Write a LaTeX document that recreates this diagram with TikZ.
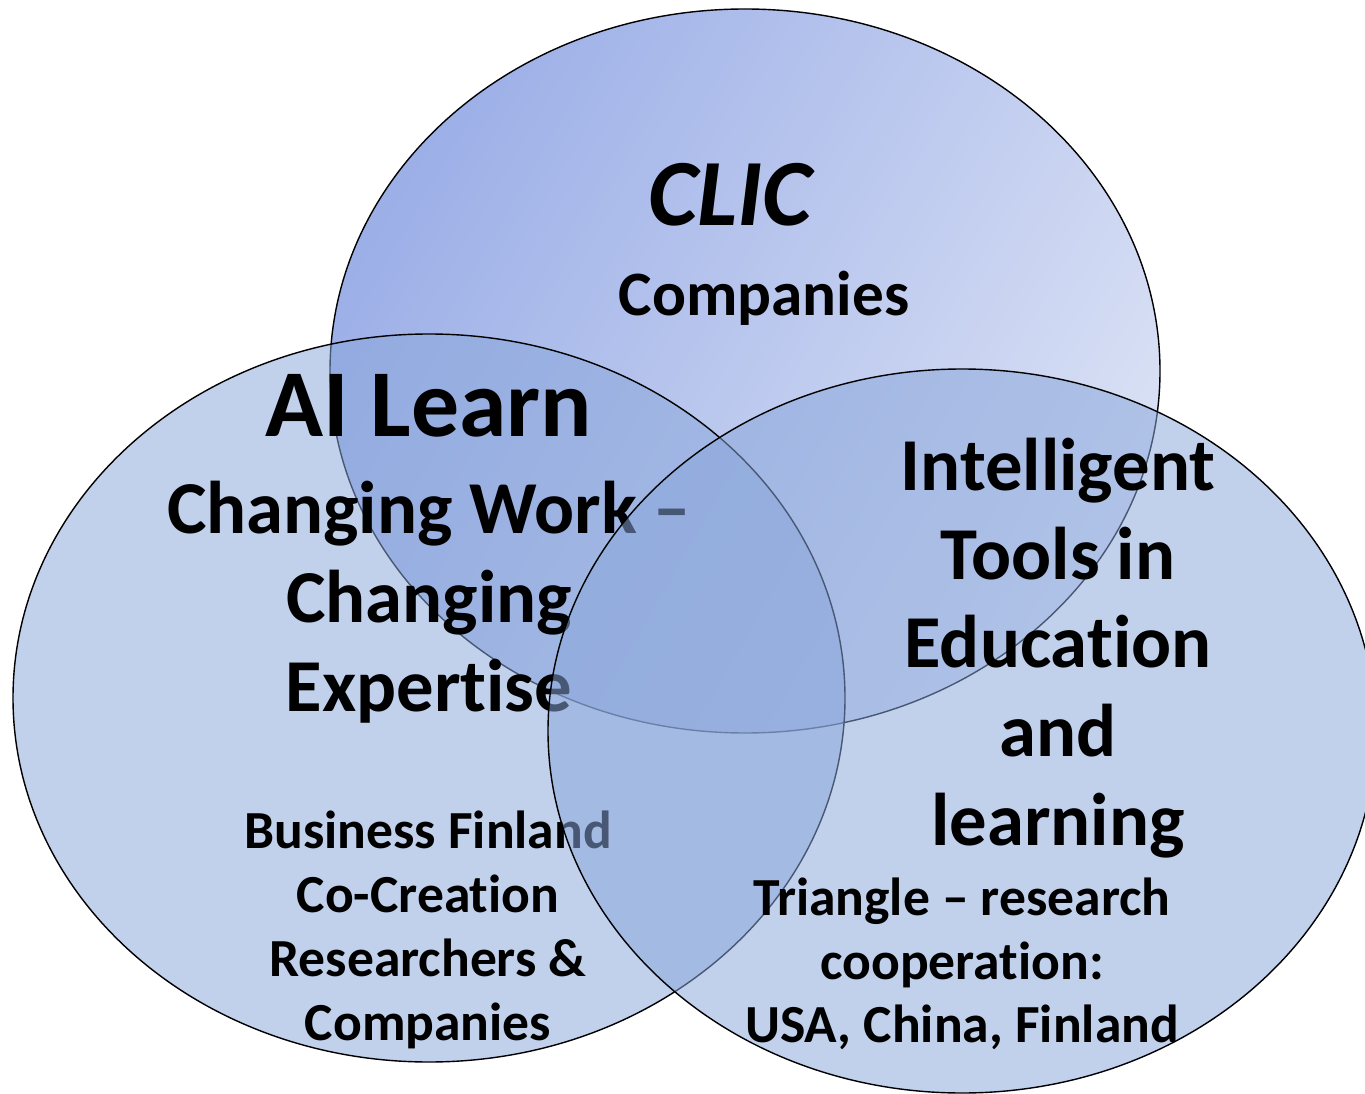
\documentclass[tikz,border=0pt]{standalone}
\usepackage{fontspec}
\setmainfont[Ligatures={TeX,NoCommon}]{Carlito}
\usetikzlibrary{positioning}
\definecolor{clicdark}{RGB}{156,175,231}
\definecolor{cliclight}{RGB}{218,225,245}
\definecolor{setblue}{RGB}{137,166,218}

\begin{document}
\begin{tikzpicture}[x=0.02cm, y=-0.02cm,
    venn/.style={draw=black, line width=0.8pt},
    big/.style={font=\bfseries\fontsize{42.5}{50.5}\selectfont, align=center, inner sep=0pt},
    small/.style={font=\bfseries\fontsize{30.5}{36.3}\selectfont, align=center, inner sep=0pt}]
    \useasboundingbox (0,0) rectangle (1365,1094);

    % CLIC
    \shadedraw[venn, top color=clicdark, bottom color=cliclight, shading angle=60] (745,371) ellipse [x radius=415, y radius=362];
    \node[font=\bfseries\itshape\fontsize{54}{60}\selectfont, anchor=base] (clic) at (730,226) {CLIC};
    \node[font=\bfseries\fontsize{36}{44}\selectfont, anchor=base] (clicfirms) at (764,316) {Companies};

    % AI Learn
    \filldraw[venn, fill=setblue, fill opacity=0.53] (429,698) ellipse [x radius=416, y radius=364];
    \node[font=\bfseries\fontsize{54.5}{64}\selectfont, anchor=base] (ailearn) at (429,437) {AI Learn};
    \node[big] (aiwork) at (429,602) {Changing Work --\\Changing\\Expertise};
    \node[small] (aifund) at (428,930) {Business Finland\\Co-Creation\\Researchers \&\\Companies};

    % Intelligent tools
    \filldraw[venn, fill=setblue, fill opacity=0.53] (962,731) ellipse [x radius=414, y radius=362];
    \node[big] (itools) at (1058,648) {Intelligent\\Tools in\\Education\\and\\learning};
    \node[small] (triangle) at (962,964) {Triangle -- research\\cooperation:\\USA, China, Finland};
\end{tikzpicture}
\end{document}
